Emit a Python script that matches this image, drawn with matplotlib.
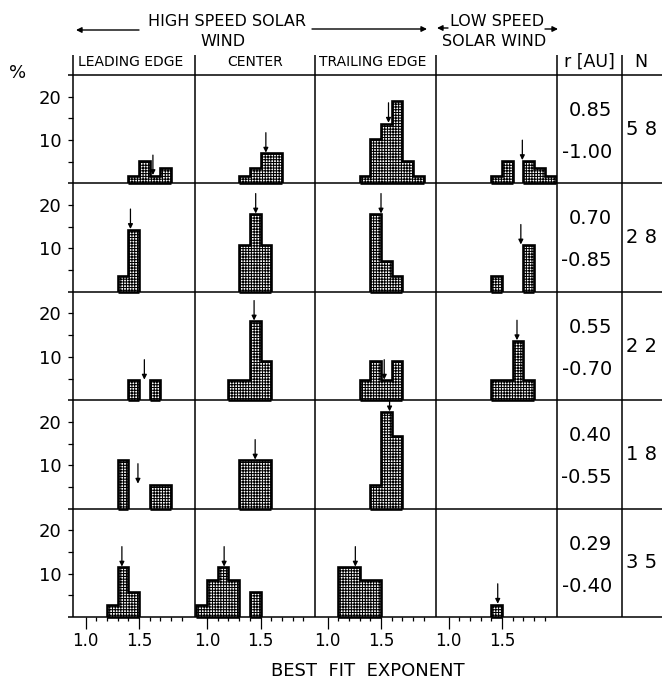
import numpy as np
import matplotlib
matplotlib.use("Agg")
import matplotlib.pyplot as plt

W, H = 662, 680
plt.rcParams["font.family"] = "DejaVu Sans"
plt.rcParams["hatch.linewidth"] = 0.75

# 0.1-wide bins of the best-fit exponent
bin_edges = [0.9, 1.0, 1.1, 1.2, 1.3, 1.4, 1.5, 1.6, 1.7, 1.8, 1.9, 2.0]

column_names = ["LEADING EDGE", "CENTER", "TRAILING EDGE", ""]

# event counts per bin, one list per column (leading, center, trailing, low speed)
counts_r085 = [[0, 0, 0, 0, 0, 1, 3, 1, 2, 0, 0],
               [0, 0, 0, 0, 1, 2, 4, 4, 0, 0, 0],
               [0, 0, 0, 0, 1, 6, 8, 11, 3, 1, 0],
               [0, 0, 0, 0, 0, 1, 3, 0, 3, 2, 1]]
counts_r070 = [[0, 0, 0, 0, 1, 4, 0, 0, 0, 0, 0],
               [0, 0, 0, 0, 3, 5, 3, 0, 0, 0, 0],
               [0, 0, 0, 0, 0, 5, 2, 1, 0, 0, 0],
               [0, 0, 0, 0, 0, 1, 0, 0, 3, 0, 0]]
counts_r055 = [[0, 0, 0, 0, 0, 1, 0, 1, 0, 0, 0],
               [0, 0, 0, 1, 1, 4, 2, 0, 0, 0, 0],
               [0, 0, 0, 0, 1, 2, 1, 2, 0, 0, 0],
               [0, 0, 0, 0, 0, 1, 1, 3, 1, 0, 0]]
counts_r040 = [[0, 0, 0, 0, 2, 0, 0, 1, 1, 0, 0],
               [0, 0, 0, 0, 2, 2, 2, 0, 0, 0, 0],
               [0, 0, 0, 0, 0, 1, 4, 3, 0, 0, 0],
               [0, 0, 0, 0, 0, 0, 0, 0, 0, 0, 0]]
counts_r029 = [[0, 0, 0, 1, 4, 2, 0, 0, 0, 0, 0],
               [1, 3, 4, 3, 0, 2, 0, 0, 0, 0, 0],
               [0, 0, 4, 4, 3, 3, 0, 0, 0, 0, 0],
               [0, 0, 0, 0, 0, 1, 0, 0, 0, 0, 0]]

# mean exponent of each panel (arrows); None = no events
means_r085 = [1.63, 1.55, 1.57, 1.69]
means_r070 = [1.42, 1.455, 1.50, 1.676]
means_r055 = [1.55, 1.44, 1.53, 1.64]
means_r040 = [1.49, 1.45, 1.58, None]
means_r029 = [1.34, 1.16, 1.26, 1.46]

r_outer = ["0.85", "0.70", "0.55", "0.40", "0.29"]
r_inner = ["-1.00", "-0.85", "-0.70", "-0.55", "-0.40"]
n_events = [58, 28, 22, 18, 35]

row_counts = [counts_r085, counts_r070, counts_r055, counts_r040, counts_r029]
row_means = [means_r085, means_r070, means_r055, means_r040, means_r029]

# panel grid in pixels
col_x = [73, 194.5, 315, 436, 557]
col_r = 621.5
row_top = 75.0
row_h = 108.4
row_y = [row_top + k * row_h for k in range(6)]
XLIM = (0.883, 2.014)
YLIM = (0, 25)
LW = 1.1


def box(x0, y0, x1, y1):
    return [x0 / W, 1 - y1 / H, (x1 - x0) / W, (y1 - y0) / H]


def runs(vals):
    i = 0
    while i < len(vals):
        if vals[i] == 0:
            i += 1
            continue
        j = i
        while j < len(vals) and vals[j] > 0:
            j += 1
        yield i, j
        i = j


def arrow_tip(pct, m, n):
    # top of the histogram right under (or next to) the mean marker
    lo = int(np.floor((m - 0.025 - bin_edges[0]) / 0.1 + 1e-9))
    hi = int(np.floor((m + 0.025 - bin_edges[0]) / 0.1 + 1e-9))
    top = max(pct[k] for k in range(lo, hi + 1))
    return top if top > 0 else 100.0 / n


fig = plt.figure(figsize=(W / 100, H / 100), dpi=100)
frame = fig.add_axes([0, 0, 1, 1])
frame.set_xlim(0, W)
frame.set_ylim(H, 0)
frame.axis("off")

# table lines
for y in row_y:
    frame.plot([68, W], [y, y], color="black", lw=LW, solid_capstyle="butt")
for x in col_x + [col_r]:
    frame.plot([x, x], [55, row_y[-1]], color="black", lw=LW, solid_capstyle="butt")

# header
frame.text(227, 21, "HIGH SPEED SOLAR", ha="center", va="center", fontsize=11.5)
frame.text(223, 41, "WIND", ha="center", va="center", fontsize=11.5)
frame.text(497, 22, "LOW SPEED", ha="center", va="center", fontsize=11.5)
frame.text(494, 41, "SOLAR WIND", ha="center", va="center", fontsize=11.5)
arrow = dict(arrowstyle="-|>", color="black", lw=1.0, mutation_scale=8, shrinkA=0, shrinkB=0)
frame.annotate("", xy=(76, 30), xytext=(139, 30), arrowprops=arrow)
frame.annotate("", xy=(427, 29), xytext=(312, 29), arrowprops=arrow)
frame.annotate("", xy=(437, 28), xytext=(448, 28), arrowprops=arrow)
frame.annotate("", xy=(558, 29), xytext=(545, 29), arrowprops=arrow)

frame.text(78, 62, column_names[0], ha="left", va="center", fontsize=10)
frame.text(255, 62, column_names[1], ha="center", va="center", fontsize=10)
frame.text(319, 62, column_names[2], ha="left", va="center", fontsize=10)
frame.text(589.5, 62, "r [AU]", ha="center", va="center", fontsize=12.5)
frame.text(641, 62, "N", ha="center", va="center", fontsize=12.5)
frame.text(18, 73, "%", ha="center", va="center", fontsize=13)
frame.text(368, 671, "BEST  FIT  EXPONENT", ha="center", va="center", fontsize=13)

for i in range(5):
    n = n_events[i]
    y_bot = row_y[i + 1]
    frame.text(612, y_bot - 73, r_outer[i], ha="right", va="center", fontsize=14)
    frame.text(612, y_bot - 31, r_inner[i], ha="right", va="center", fontsize=14)
    frame.text(642, y_bot - 54, f"{n // 10} {n % 10}", ha="center", va="center", fontsize=14)

    for j in range(4):
        ax = fig.add_axes(box(col_x[j], row_y[i], col_x[j] + 121, row_y[i + 1]))
        ax.set_facecolor("none")
        ax.set_xlim(*XLIM)
        ax.set_ylim(*YLIM)
        for s in ax.spines.values():
            s.set_visible(False)

        pct = 100.0 * np.array(row_counts[i][j]) / n
        for a, b in runs(pct):
            ax.stairs(pct[a:b], bin_edges[a:b + 1], baseline=0, fill=True,
                      facecolor="white", edgecolor="black", hatch="++++++",
                      linewidth=1.9, zorder=3)
            ax.plot([bin_edges[a], bin_edges[b]], [0, 0], color="black", lw=1.9,
                    solid_capstyle="butt", clip_on=False, zorder=3)

        m = row_means[i][j]
        if m is not None:
            tip = arrow_tip(pct, m, n)
            ax.annotate("", xy=(m, tip + 0.2), xytext=(m, min(tip + 4.8, 25)),
                        arrowprops=dict(arrowstyle="-|>", color="black", lw=0.9,
                                        mutation_scale=7, shrinkA=0, shrinkB=0),
                        zorder=4)

        if j == 0:
            ax.set_yticks([10, 20])
            ax.set_yticks([5, 15], minor=True)
            ax.tick_params(axis="y", which="both", direction="out", length=3.6,
                           width=0.9, labelsize=13, pad=4.5)
        else:
            ax.set_yticks([])
        if i == 4:
            ax.set_xticks([1.0, 1.5])
            ax.set_xticklabels(["1.0", "1.5"])
            ax.set_xticks([1.1, 1.2, 1.3, 1.4, 1.6, 1.7, 1.8, 1.9], minor=True)
            ax.tick_params(axis="x", which="major", direction="out", length=8.5,
                           width=0.9, labelsize=12, pad=2.5)
            ax.tick_params(axis="x", which="minor", direction="out", length=3,
                           width=0.9)
        else:
            ax.set_xticks([])

fig.savefig("out.png", dpi=100)
